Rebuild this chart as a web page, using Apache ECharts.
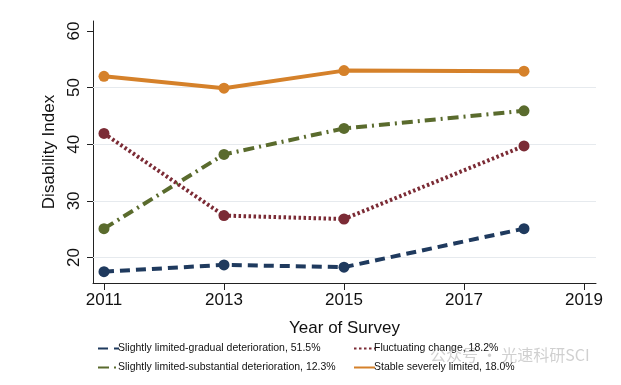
<!DOCTYPE html>
<html>
<head>
<meta charset="utf-8">
<script src="https://cdn.jsdelivr.net/npm/echarts@6/dist/echarts.min.js"></script>
<style>html,body{margin:0;padding:0;background:#fff}#c{width:621px;height:385px}</style>
</head>
<body>
<div id="c"></div>
<script>
var years = [2011, 2013, 2015, 2018];
var xTicks = [2011, 2013, 2015, 2017, 2019];
var yTicks = [20, 30, 40, 50, 60];
var gridValues = [20, 30, 40, 50];
var names = [
  'Slightly limited-gradual deterioration, 51.5%',
  'Slightly limited-substantial deterioration, 12.3%',
  'Fluctuating change, 18.2%',
  'Stable severely limited, 18.0%'
];
var gradual = [17.5, 18.7, 18.3, 25.1];
var substantial = [25.1, 38.2, 42.8, 45.9];
var fluctuating = [41.9, 27.4, 26.8, 39.7];
var stable = [52.0, 49.9, 53.0, 52.9];

function pairs(v){ return years.map(function(y,i){ return [y, v[i]]; }); }

var colors = ['#1f3a5e', '#5a6b2d', '#7b2b35', '#d5812a'];
var dashes = [[10, 6], [11, 5, 2, 5], [2.5, 2.5], 'solid'];
var values = [gradual, substantial, fluctuating, stable];

var font = 'Liberation Sans, Arial, Helvetica, sans-serif';
var series = values.map(function(v, i){
  var s = {
    name: names[i], type: 'line', data: pairs(v),
    symbol: 'circle', symbolSize: 11,
    itemStyle: {color: colors[i]},
    lineStyle: {color: colors[i], width: 4, type: dashes[i]},
    z: 3 + i, animation: false
  };
  if (i === 0) {
    s.markLine = {
      silent: true, symbol: 'none', label: {show: false},
      lineStyle: {color: '#e6eaee', width: 1, type: 'solid'},
      data: gridValues.map(function(g){ return {yAxis: g}; }),
      animation: false, z: 1
    };
  }
  return s;
});

var chart = echarts.init(document.getElementById('c'));
chart.setOption({
  animation: false,
  backgroundColor: '#fff',
  grid: {left: 93, right: 25, top: 21, bottom: 102},
  xAxis: {
    type: 'value', min: 2010.817, max: 2019.2,
    name: 'Year of Survey', nameLocation: 'middle', nameGap: 37,
    nameTextStyle: {fontFamily: font, fontSize: 17, color: '#111'},
    axisLine: {show: true, lineStyle: {color: '#222', width: 1}},
    axisTick: {show: true, length: 7, lineStyle: {color: '#222'}, customValues: xTicks},
    axisLabel: {fontFamily: font, fontSize: 17, color: '#111', margin: 9, customValues: xTicks,
                formatter: function(v){ return String(v); }},
    splitLine: {show: false}
  },
  yAxis: {
    type: 'value', min: 15.5, max: 61.76,
    name: 'Disability Index', nameLocation: 'middle', nameGap: 30, nameRotate: 90,
    nameTextStyle: {fontFamily: font, fontSize: 17, color: '#111'},
    axisLine: {show: true, lineStyle: {color: '#222', width: 1}},
    axisTick: {show: true, length: 6, lineStyle: {color: '#222'}, customValues: yTicks},
    axisLabel: {fontFamily: font, fontSize: 17, color: '#111', rotate: 90, margin: 10, customValues: yTicks},
    splitLine: {show: false}
  },
  legend: [
    {orient: 'vertical', left: 92, top: 338, itemWidth: 21, itemHeight: 10, itemGap: 8,
     textStyle: {fontFamily: font, fontSize: 10.5, color: '#111', padding: [0,0,0,-6]},
     itemStyle: {opacity: 0},
     data: [names[0], names[1]]},
    {orient: 'vertical', left: 348, top: 338, itemWidth: 21, itemHeight: 10, itemGap: 8,
     textStyle: {fontFamily: font, fontSize: 10.5, color: '#111', padding: [0,0,0,-6]},
     itemStyle: {opacity: 0},
     data: [names[2], names[3]]}
  ],
  graphic: [{
    type: 'text', left: 430, top: 347, silent: true, z: 100,
    style: {text: '公众号 · 光速科研SCI', fontFamily: 'Noto Sans CJK SC', fontSize: 16, fill: 'rgba(150,150,150,0.45)'}
  }],
  series: series
});
</script>
</body>
</html>
